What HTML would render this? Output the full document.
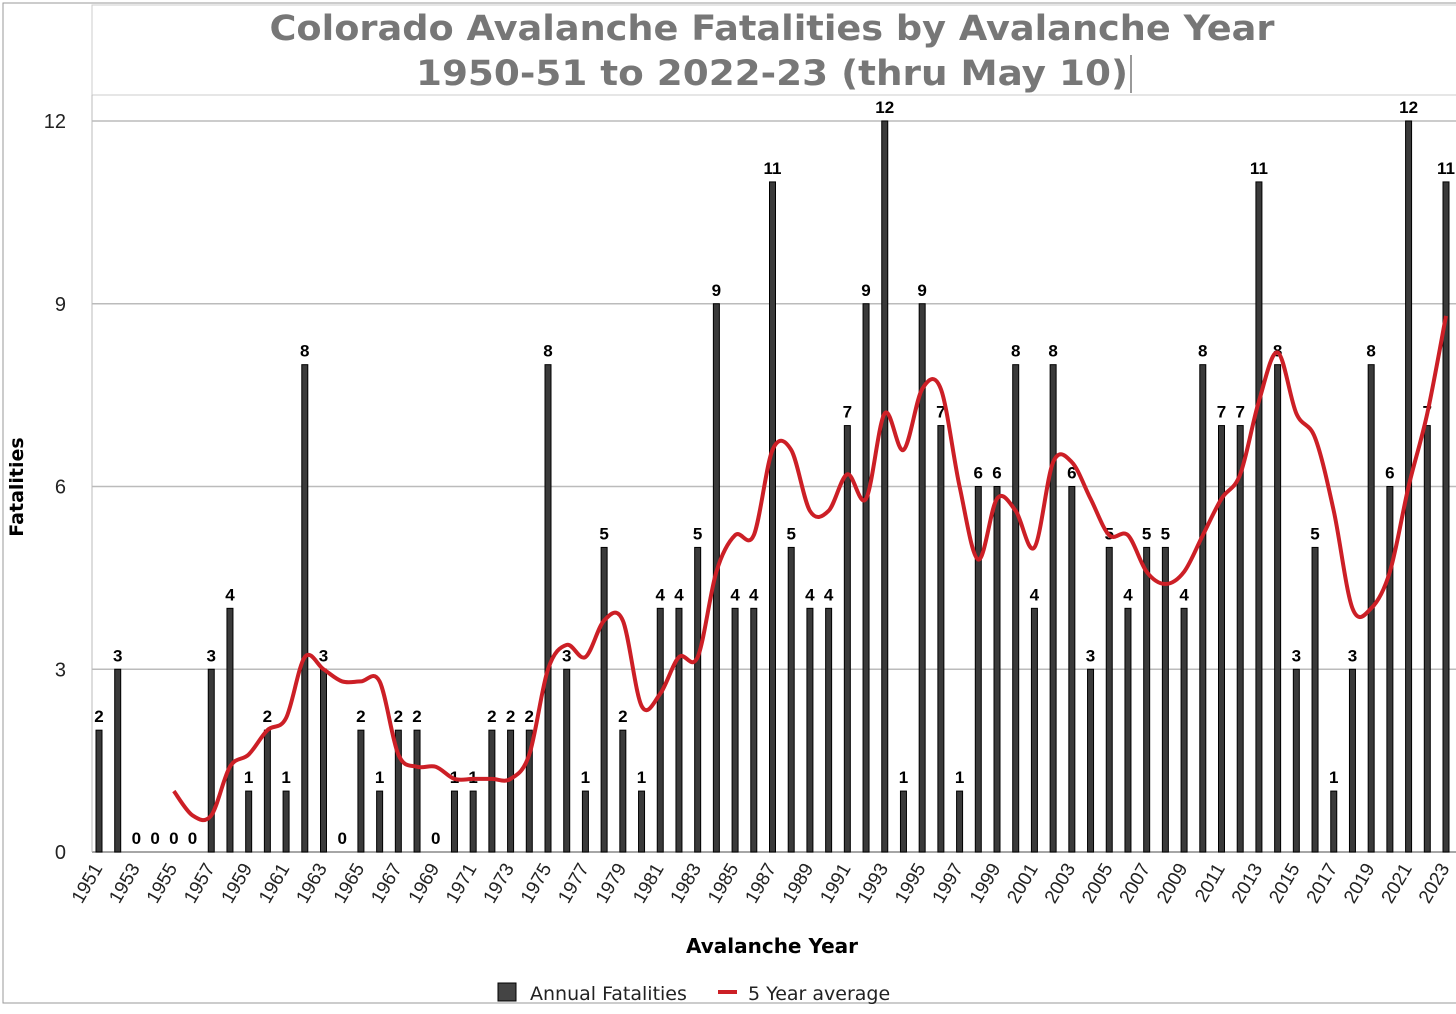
<!DOCTYPE html>
<html><head><meta charset="utf-8"><style>
body{margin:0;background:#fff;}
svg text{font-family:"Liberation Sans","DejaVu Sans",sans-serif;}
svg text.dv{font-family:"DejaVu Sans","Liberation Sans",sans-serif;}
</style></head><body>
<svg id="chart" width="1456" height="1009" xmlns="http://www.w3.org/2000/svg">
<rect x="3" y="3" width="1460" height="1000" fill="#fff" stroke="#999" stroke-width="1"/>
<rect x="92" y="5" width="1370" height="90" fill="#fff" stroke="#ccc"/>
<text class="dv" x="772" y="40" text-anchor="middle" font-size="35" font-weight="bold" fill="#777" textLength="1005" lengthAdjust="spacingAndGlyphs">Colorado Avalanche Fatalities by Avalanche Year</text>
<text class="dv" x="772" y="85" text-anchor="middle" font-size="35" font-weight="bold" fill="#777" textLength="712" lengthAdjust="spacingAndGlyphs">1950-51 to 2022-23 (thru May 10)</text>
<line x1="1131" y1="55" x2="1131" y2="93" stroke="#333"/>
<text class="dv" transform="translate(23,487) rotate(-90)" text-anchor="middle" font-size="19" font-weight="bold">Fatalities</text>
<text class="dv" x="772" y="953" text-anchor="middle" font-size="20" font-weight="bold">Avalanche Year</text>
<g id="grid"></g><g id="bars"></g><g id="labels"></g><g id="xticks"></g><g id="line"></g>
<rect x="498" y="983" width="18" height="18" fill="#444" stroke="#000"/>
<text class="dv" x="530" y="1000" font-size="19" fill="#222">Annual Fatalities</text>
<line x1="718" y1="992" x2="737" y2="992" stroke="#cc1f26" stroke-width="4"/>
<text class="dv" x="748" y="1000" font-size="19" fill="#222">5 Year average</text>
</svg>
<script>
const years=[];for(let y=1951;y<=2023;y++)years.push(y);
const fatalities=[2,3,0,0,0,0,3,4,1,2,1,8,3,0,2,1,2,2,0,1,1,2,2,2,8,3,1,5,2,1,4,4,5,9,4,4,11,5,4,4,7,9,12,1,9,7,1,6,6,8,4,8,6,3,5,4,5,5,4,8,7,7,11,8,3,5,1,3,8,6,12,7,11];
const avgStartYear=1955;
const avg5=[1.0,0.6,0.6,1.4,1.6,2.0,2.2,3.2,3.0,2.8,2.8,2.8,1.6,1.4,1.4,1.2,1.2,1.2,1.2,1.6,3.0,3.4,3.2,3.8,3.8,2.4,2.6,3.2,3.2,4.6,5.2,5.2,6.6,6.6,5.6,5.6,6.2,5.8,7.2,6.6,7.6,7.6,6.0,4.8,5.8,5.6,5.0,6.4,6.4,5.8,5.2,5.2,4.6,4.4,4.6,5.2,5.8,6.2,7.4,8.2,7.2,6.8,5.6,4.0,4.0,4.6,6.0,7.2,8.8];
const yTicks=[0,3,6,9,12];
const NS="http://www.w3.org/2000/svg";
const X=y=>99+(y-1951)*(1446-99)/72;
const Y=v=>852-v*(852-121)/12;
function mk(t,a,p){const e=document.createElementNS(NS,t);for(const k in a)e.setAttribute(k,a[k]);p.appendChild(e);return e;}
const grid=document.getElementById('grid');
yTicks.forEach(t=>{
 const l=mk('line',{x1:92,x2:1456,y1:Y(t),y2:Y(t),stroke:t===0?'#888':'#bbb','stroke-width':1.5},grid);
 
 
 const tx=mk('text',{x:66,y:Y(t)+7,'text-anchor':'end','font-size':20,fill:'#222'},grid);tx.textContent=t;
 
 
});
mk('line',{x1:92,x2:92,y1:95,y2:852,stroke:'#bbb'},grid);
const bars=document.getElementById('bars'),labels=document.getElementById('labels'),xt=document.getElementById('xticks');
years.forEach((yr,i)=>{
 const v=fatalities[i],x=X(yr);
 const r=mk('rect',{x:x-3,y:Y(v),width:6,height:852-Y(v),fill:'#3a3a3a',stroke:'#000','stroke-width':1},bars);
 
 
 const t=mk('text',{x:x,y:Y(v)-8,'text-anchor':'middle','font-size':17,'font-weight':'bold',fill:'#000'},labels);t.textContent=v;
 
 
 if(yr%2===1){
  const tk=mk('text',{transform:`translate(${x+4},${868}) rotate(-60)`,'text-anchor':'end','font-size':19,fill:'#222'},xt);tk.textContent=yr;
  
  
 }
});
const pts=avg5.map((v,i)=>[X(avgStartYear+i),Y(v)]);
let d=`M${pts[0][0]},${pts[0][1]}`;
for(let i=0;i<pts.length-1;i++){
 const p0=pts[Math.max(0,i-1)],p1=pts[i],p2=pts[i+1],p3=pts[Math.min(pts.length-1,i+2)];
 const c1=[p1[0]+(p2[0]-p0[0])/6,p1[1]+(p2[1]-p0[1])/6],c2=[p2[0]-(p3[0]-p1[0])/6,p2[1]-(p3[1]-p1[1])/6];
 d+=` C${c1[0]},${c1[1]} ${c2[0]},${c2[1]} ${p2[0]},${p2[1]}`;
}
const ln=mk('path',{d:d,fill:'none',stroke:'#cc1f26','stroke-width':4,'stroke-linejoin':'round'},document.getElementById('line'));


</script>
</body></html>
